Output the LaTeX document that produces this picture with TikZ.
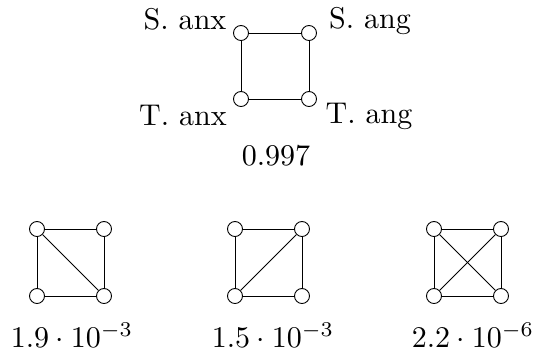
\documentclass[tikz,border=0pt]{standalone}
\usetikzlibrary{positioning}
\tikzset{
  vert/.style={draw, circle, minimum size=5pt, inner sep=0pt, line width=0.3pt},
  edge/.style={line width=0.28pt},
  lab/.style={anchor=base, inner sep=0pt},
}
\begin{document}
\begin{tikzpicture}[x=0.333pt, y=-0.333pt]
  \useasboundingbox (0,0) rectangle (536,359);
  % top graph
  \node[vert] (sx) at (241,33) {};
  \node[vert] (sg) at (309,33) {};
  \node[vert] (tx) at (241,99) {};
  \node[vert] (tg) at (309,99) {};
  \draw[edge] (sx) -- (sg) -- (tg) -- (tx) -- (sx);
  \node[lab] (lsx) at (185,29) {S. anx};
  \node[lab] (lsg) at (370,28) {S. ang};
  \node[lab] (ltx) at (183,125) {T. anx};
  \node[lab] (ltg) at (369,123) {T. ang};
  \node[lab] (ptop) at (276,165) {$0.997$};
  % bottom graphs
  \foreach \n/\x in {a/37, b/235, c/434} {
    \node[vert] (\n1) at (\x,229) {};
    \node[vert] (\n2) at (\x+67,229) {};
    \node[vert] (\n3) at (\x,296) {};
    \node[vert] (\n4) at (\x+67,296) {};
    \draw[edge] (\n1) -- (\n2) -- (\n4) -- (\n3) -- (\n1);
  }
  \draw[edge] (a1) -- (a4);
  \draw[edge] (b3) -- (b2);
  \draw[edge] (c1) -- (c4);
  \draw[edge] (c3) -- (c2);
  \node[lab] (pa) at (72,347) {$1.9\cdot 10^{-3}$};
  \node[lab] (pb) at (273,347) {$1.5\cdot 10^{-3}$};
  \node[lab] (pc) at (473,347) {$2.2\cdot 10^{-6}$};
\end{tikzpicture}
\end{document}
